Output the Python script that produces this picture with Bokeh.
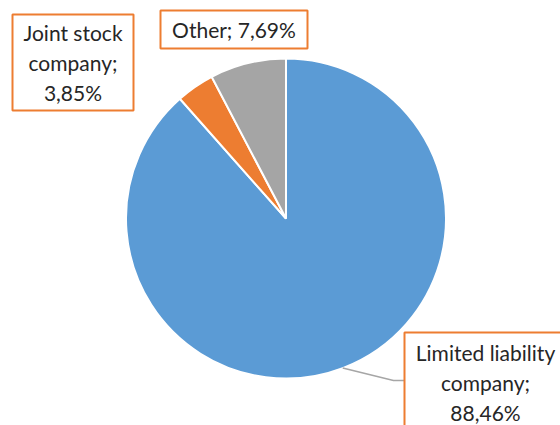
import math
from bokeh.plotting import figure
from bokeh.models import Range1d, ColumnDataSource
from bokeh.core.properties import value
from bokeh.embed import file_html
from bokeh.resources import INLINE

categories = ["Limited liability company", "Joint stock company", "Other"]
values = [88.46, 3.85, 7.69]
label_texts = ["Limited liability\ncompany;\n88,46%", "Joint stock\ncompany;\n3,85%", "Other; 7,69%"]
colors = ["#5B9BD5", "#ED7D31", "#A5A5A5"]

W, H = 560, 425
p = figure(width=W, height=H, output_backend="svg", toolbar_location=None,
           x_range=Range1d(0, W), y_range=Range1d(0, H), min_border=0)
p.axis.visible = False
p.grid.visible = False
p.outline_line_color = None
p.background_fill_color = "white"

def X(ix):
    return ix

def Y(iy):
    return H - iy

cx, cy, r = X(285.5), Y(218), 160
total = sum(values)
starts, ends, mids = [], [], []
a = math.pi / 2
for v in values:
    da = 2 * math.pi * v / total
    starts.append(a)
    ends.append(a - da)
    mids.append(a - da / 2)
    a -= da

src = ColumnDataSource(dict(start=starts, end=ends, color=colors, cat=categories))
p.wedge(x=cx, y=cy, radius=r, start_angle="start", end_angle="end", direction="clock",
        fill_color="color", line_color="white", line_width=2, source=src)

# leader line for the Limited liability label
m = mids[0]
lx0, ly0 = cx + r * math.cos(m), cy + r * math.sin(m)
p.line([lx0, X(393), X(404)], [ly0, Y(380), Y(380)], line_color="#A6A6A6", line_width=1.5)

# label boxes: (left, top, right, bottom) in image px
boxes = [(404, 332, 566, 432), (12, 14, 133, 110), (160, 10, 307, 48)]
for (l, t, rr, b), txt in zip(boxes, label_texts):
    p.quad(left=X(l), right=X(rr), top=Y(t), bottom=Y(b), fill_color="white",
           line_color="#ED7D31", line_width=2)
    p.text(x=[(X(l) + X(rr)) / 2], y=[(Y(t) + Y(b)) / 2], text=[txt],
           text_align="center", text_baseline="middle", text_font=value("Lato"),
           text_font_size="21px", text_color="#262626", text_line_height=1.2)

open("out.html", "w").write(file_html(p, INLINE))
